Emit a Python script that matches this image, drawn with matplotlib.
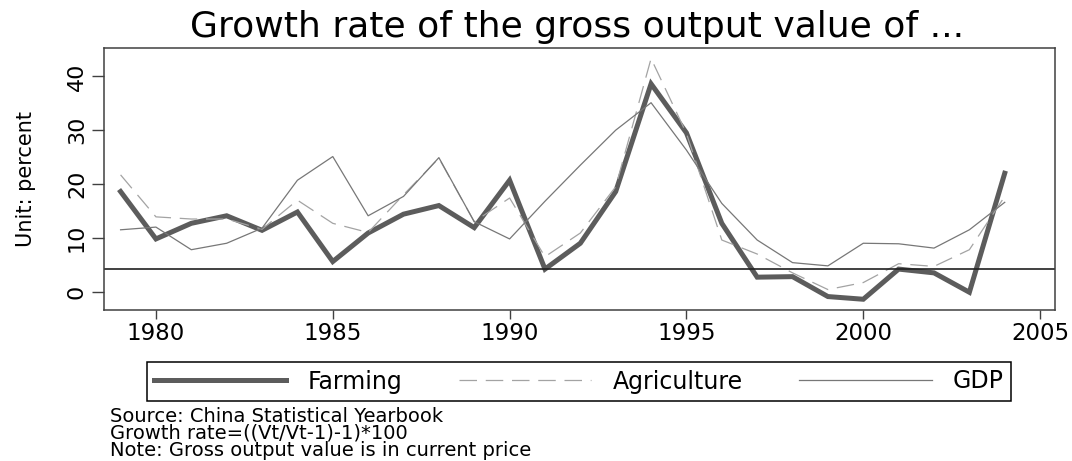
import matplotlib.pyplot as plt

# data
years = list(range(1979, 2005))
farming = [18.6, 9.8, 12.7, 14.1, 11.4, 14.8, 5.6, 10.9, 14.4, 16.0, 11.9, 20.7, 4.2,
           9.0, 18.6, 38.6, 29.5, 12.7, 2.7, 2.8, -0.9, -1.4, 4.2, 3.5, -0.1, 22.0]
agriculture = [21.7, 13.9, 13.5, 13.5, 11.6, 17.0, 12.7, 11.0, 18.0, 24.8, 13.0, 17.4, 6.5,
               10.9, 19.5, 43.3, 29.4, 9.6, 7.0, 3.5, 0.4, 1.7, 5.2, 4.7, 7.8, 17.7]
gdp = [11.5, 12.0, 7.8, 9.0, 11.8, 20.7, 25.1, 14.1, 17.7, 24.9, 13.0, 9.8, 16.8,
       23.5, 30.0, 35.1, 26.3, 16.4, 9.6, 5.4, 4.8, 9.0, 8.9, 8.1, 11.5, 16.6]
ref_line = 4.2
xticks = [1980, 1985, 1990, 1995, 2000, 2005]
yticks = [0, 10, 20, 30, 40]
notes = ['Source: China Statistical Yearbook',
         'Growth rate=((Vt/Vt-1)-1)*100',
         'Note: Gross output value is in current price']

plt.rcParams['font.family'] = 'DejaVu Sans'

fig = plt.figure(figsize=(10.72, 4.61), dpi=100)
ax = fig.add_axes([0.0973, 0.3275, 0.8868, 0.5677])

ax.plot(years, farming, color='#5c5c5c', linewidth=3.6, solid_joinstyle='miter', label='Farming')
ax.plot(years, agriculture, color='#a3a3a3', linewidth=0.9, dashes=(14, 7), label='Agriculture')
ax.plot(years, gdp, color='#777777', linewidth=0.9, label='GDP')
ax.axhline(ref_line, color='#202020', linewidth=1.2)

ax.set_xlim(1978.54, 2005.42)
ax.set_ylim(-3.4, 45.2)
ax.set_xticks(xticks)
ax.set_yticks(yticks)
ax.tick_params(axis='x', length=6.5, width=1, labelsize=16.5, pad=2, color='#404040')
ax.tick_params(axis='y', length=8.5, width=1, labelsize=16, pad=4, color='#404040',
               labelrotation=90)
for lab in ax.get_yticklabels():
    lab.set_va('center')
for s in ax.spines.values():
    s.set_color('#404040')
    s.set_linewidth(1.1)
ax.set_ylabel('Unit: percent', fontsize=15, labelpad=22)

fig.text(0.5386, 0.9204, 'Growth rate of the gross output value of ...',
         ha='center', va='baseline', fontsize=26)

leg = fig.legend(loc='center', bbox_to_anchor=(579 / 1072, 1 - 381.5 / 461), ncol=3,
                 fontsize=17, handlelength=5.6, handletextpad=0.9, columnspacing=2.4,
                 borderpad=0.3, fancybox=False, edgecolor='black', framealpha=1)
leg.get_frame().set_linewidth(1.1)

for i, t in enumerate(notes):
    fig.text(110 / 1072, 1 - (421.7 + i * 17) / 461, t, ha='left', va='baseline', fontsize=14)

fig.savefig('out.png', dpi=100)
